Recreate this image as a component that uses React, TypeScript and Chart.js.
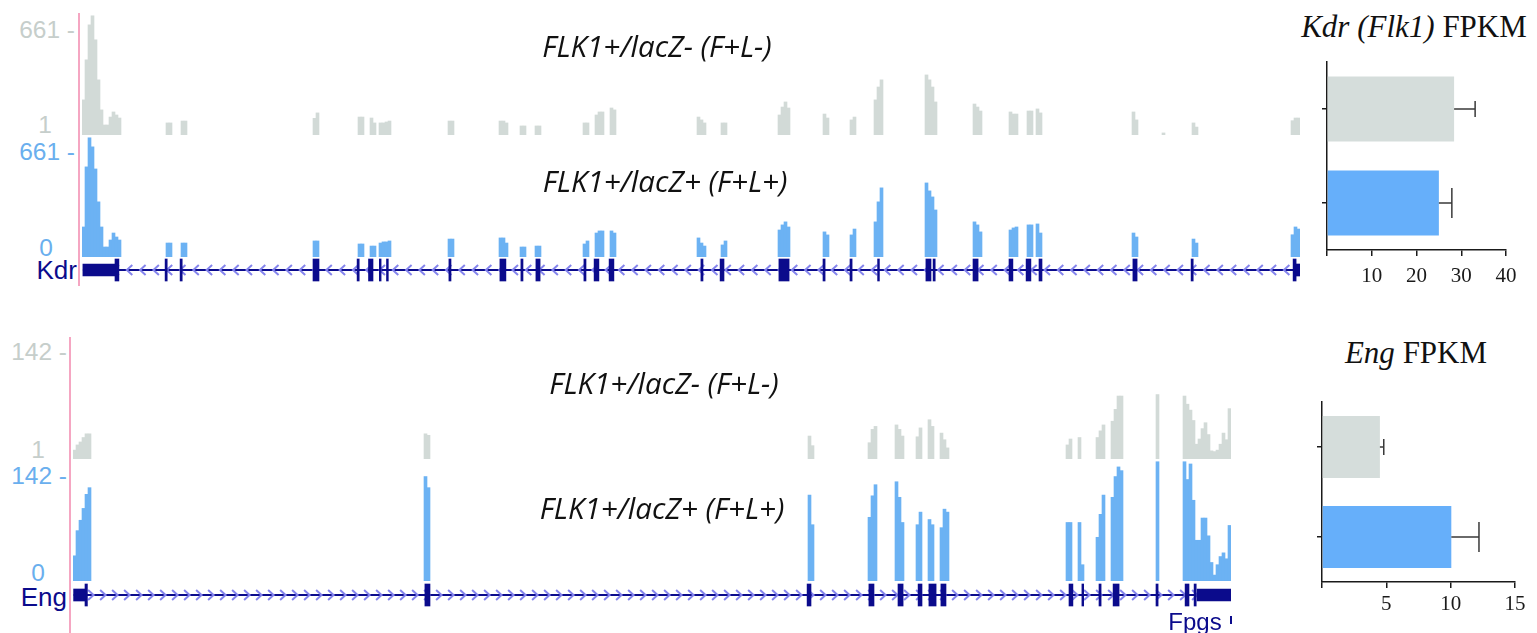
import React, { useEffect, useRef } from "react";
import { Chart, registerables } from "chart.js";

Chart.register(...registerables);

// ================= DATA =================
// Coverage tracks: each row = [first bin, value per consecutive bin ...] (bins of equal genomic width)
const kdrBinCount = 406;
const kdrTrackMax = 755;
const kdrScaleLabels = ["661 -", "1", "661 -", "0"];
const kdrCoverageLacZneg: number[][] = [
  [0, 221, 473, 693, 750, 599, 347, 158, 63, 63, 113, 145, 126, 107],
  [28, 76, 76],
  [33, 88, 88],
  [77, 105, 139],
  [92, 113, 113],
  [96, 107, 76],
  [99, 76, 76, 82, 88],
  [122, 88, 88],
  [139, 88, 88, 76],
  [146, 57, 57],
  [151, 57, 57],
  [167, 76, 76],
  [171, 126, 145, 145],
  [176, 170, 158],
  [205, 113, 95, 76],
  [213, 76, 76],
  [232, 126, 176, 208, 170],
  [247, 132, 107],
  [256, 95, 113],
  [264, 221, 302, 347],
  [281, 378, 347, 302, 208],
  [297, 195, 176, 151],
  [309, 145, 132, 132],
  [315, 151, 151],
  [318, 164, 139],
  [350, 145, 95],
  [360, 13],
  [370, 76, 50],
  [403, 90, 107, 107],
];
const kdrCoverageLacZpos: number[][] = [
  [0, 189, 567, 750, 693, 554, 347, 189, 63, 63, 107, 151, 126, 107],
  [28, 88, 88],
  [33, 88, 88],
  [77, 101, 101],
  [92, 82, 82],
  [96, 69, 69],
  [99, 88, 95, 95, 101],
  [122, 113, 113],
  [139, 120, 120, 88],
  [146, 63, 63],
  [151, 69, 69],
  [167, 82, 101],
  [171, 151, 164, 164],
  [176, 164, 151],
  [205, 120, 88, 69],
  [213, 76, 101],
  [232, 170, 202, 221, 189],
  [247, 158, 139],
  [256, 139, 176],
  [264, 221, 347, 435],
  [281, 466, 416, 378, 296],
  [297, 221, 202, 158],
  [309, 170, 183, 189],
  [315, 202, 202],
  [318, 208, 151],
  [350, 151, 126],
  [370, 113, 88],
  [403, 140, 189, 176],
];
// Gene model (bin coordinates): [start, end]
const kdrGeneSpan = [-0.2, 405.5];
const kdrUtrExons: number[][] = [[-0.2, 10.5], [404.2, 405.5]];
const kdrCodingExons: number[][] = [
  [10.5, 11.8], [27.2, 27.9], [32.2, 32.9], [76.5, 78.5], [91.2, 91.9], [95, 96.5],
  [98.6, 99.2], [101, 101.6], [121.8, 122.5], [138.8, 140.8], [145.8, 146.5],
  [150.8, 152.2], [166.8, 167.5], [170.2, 171.8], [175.2, 176.8], [205.8, 206.5],
  [212.2, 213.5], [231.8, 235.2], [246.5, 247.2], [255.5, 256.2], [264.7, 265.3],
  [280.8, 282.5], [283.2, 283.9], [296.5, 298.2], [308.5, 309.8], [314.2, 315.8],
  [318.5, 319.5], [349.8, 351.2], [369.2, 369.9], [403.2, 404.2],
];

const engBinCount = 386;
const engTrackMax = 162;
const engScaleLabels = ["142 -", "1", "142 -", "0"];
const engCoverageLacZneg: number[][] = [
  [0, 12, 19, 23, 29, 34, 34],
  [117, 34, 32],
  [245, 31, 18],
  [265, 22, 40, 44],
  [274, 46, 40, 31],
  [281, 30, 42],
  [285, 53, 44],
  [289, 35, 26, 15],
  [331, 19, 27],
  [335, 29],
  [341, 29, 38, 46],
  [346, 51, 67, 85, 85],
  [361, 87],
  [370, 85, 74, 66, 52, 20, 27, 41, 49, 33, 11, 10, 12, 20, 35, 26, 68],
];
const engCoverageLacZpos: number[][] = [
  [0, 34, 68, 82, 98, 117, 126],
  [117, 141, 126],
  [245, 116, 76],
  [265, 86, 115, 130],
  [274, 134, 113, 79],
  [281, 76, 93],
  [285, 83, 76],
  [289, 72, 97, 93],
  [331, 79, 79],
  [335, 79, 22],
  [341, 59, 90, 116],
  [346, 113, 141, 154, 149],
  [361, 161],
  [370, 161, 137, 158, 109, 55, 55, 85, 85, 61, 25, 8, 22, 33, 38, 30, 75],
];
const engGeneSpan = [-0.3, 385.5];
const engUtrExons: number[][] = [[-0.3, 3.5], [374.2, 385.5]];
const engCodingExons: number[][] = [
  [3.5, 4.3], [116.8, 118.5], [244.2, 245.5], [264.8, 266.5], [274.5, 276.2],
  [281.2, 282.5], [284.8, 287.2], [288.8, 290.5], [331.5, 332.8], [335.8, 336.4],
  [341.5, 342.2], [346.2, 348.2], [360.5, 361.2], [370.2, 371.5], [373.2, 373.9],
];

// FPKM bar charts
const sampleGroups = ["FLK1+/lacZ- (F+L-)", "FLK1+/lacZ+ (F+L+)"];
const kdrFpkm = [28.4, 25.0];
const kdrFpkmErr = [4.7, 2.9];
const kdrFpkmTicks = [10, 20, 30, 40];
const engFpkm = [4.5, 10.05];
const engFpkmErr = [0.3, 2.15];
const engFpkmTicks = [5, 10, 15];

// ================= STYLE =================
const GREY_TRACK = "#d2dad7";
const BLUE_TRACK = "#6cb2f3";
const GREY_LABEL = "#c6cecb";
const BLUE_LABEL = "#6aafee";
const NAVY = "#0b0b8c";
const CHEVRON = "#8484ec";
const PINK = "#f5a6c2";
const GREY_BAR = "#d5dddb";
const BLUE_BAR = "#66affa";
const SANS = '"Liberation Sans", Arial, sans-serif';
const SERIF = '"Liberation Serif", "Times New Roman", serif';

function coverageConfig(rows: number[][], bins: number, yMax: number, color: string): any {
  const points: { x: number; y: number }[] = [];
  rows.forEach(([start, ...vals]) => vals.forEach((v, k) => points.push({ x: start + k, y: v })));
  return {
    type: "bar",
    data: {
      datasets: [
        { data: points, backgroundColor: color, borderWidth: 0, barPercentage: 1, categoryPercentage: 1 },
      ],
    },
    options: {
      animation: false,
      responsive: true,
      maintainAspectRatio: false,
      events: [],
      layout: { padding: 0 },
      plugins: { legend: { display: false }, tooltip: { enabled: false } },
      scales: {
        x: {
          type: "linear",
          min: -0.5,
          max: bins - 0.5,
          offset: false,
          display: false,
          afterBuildTicks: (s: any) => {
            s.ticks = [];
          },
        },
        y: { type: "linear", min: 0, max: yMax, display: false },
      },
    },
  };
}

function geneConfig(
  span: number[],
  utr: number[][],
  coding: number[][],
  bins: number,
  dir: number,
  spacing: number
): any {
  const intronPlugin = {
    id: "intron",
    beforeDatasetsDraw(chart: any) {
      const ctx = chart.ctx;
      const xs = chart.scales.x;
      const y = chart.scales.y.getPixelForValue(0);
      const x0 = xs.getPixelForValue(span[0]);
      const x1 = xs.getPixelForValue(span[1]);
      ctx.save();
      ctx.strokeStyle = NAVY;
      ctx.lineWidth = 2;
      ctx.beginPath();
      ctx.moveTo(x0, y);
      ctx.lineTo(x1, y);
      ctx.stroke();
      ctx.strokeStyle = CHEVRON;
      ctx.lineWidth = 2;
      for (let x = x0 + 6; x < x1 - 3; x += spacing) {
        ctx.beginPath();
        ctx.moveTo(x + 3.5 * dir, y - 5);
        ctx.lineTo(x - 2 * dir, y);
        ctx.lineTo(x + 3.5 * dir, y + 5);
        ctx.stroke();
      }
      ctx.restore();
    },
  };
  return {
    type: "bar",
    data: {
      labels: ["gene"],
      datasets: [
        {
          data: utr.map(([s, e]) => ({ y: "gene", x: [s, e] })),
          backgroundColor: NAVY,
          barThickness: 12,
          grouped: false,
          borderWidth: 0,
        },
        {
          data: coding.map(([s, e]) => ({ y: "gene", x: [s, e] })),
          backgroundColor: NAVY,
          barThickness: 22,
          grouped: false,
          borderWidth: 0,
        },
      ],
    },
    options: {
      indexAxis: "y",
      animation: false,
      responsive: true,
      maintainAspectRatio: false,
      events: [],
      layout: { padding: 0 },
      plugins: { legend: { display: false }, tooltip: { enabled: false } },
      scales: {
        x: { type: "linear", min: -0.5, max: bins - 0.5, offset: false, display: false },
        y: { type: "category", display: false },
      },
    },
    plugins: [intronPlugin],
  };
}

function fpkmConfig(
  values: number[],
  errs: number[],
  ticks: number[],
  padding: any,
  labelPad: number
): any {
  const errorPlugin = {
    id: "errbars",
    afterDatasetsDraw(chart: any) {
      const ctx = chart.ctx;
      const xs = chart.scales.x;
      const meta = chart.getDatasetMeta(0);
      const capHalf = [8, 15];
      ctx.save();
      ctx.strokeStyle = "#3a3a3a";
      ctx.lineWidth = 1.5;
      meta.data.forEach((bar: any, i: number) => {
        const xa = xs.getPixelForValue(values[i]);
        const xb = xs.getPixelForValue(values[i] + errs[i]);
        ctx.beginPath();
        ctx.moveTo(xa, bar.y);
        ctx.lineTo(xb, bar.y);
        ctx.moveTo(xb, bar.y - capHalf[i]);
        ctx.lineTo(xb, bar.y + capHalf[i]);
        ctx.stroke();
      });
      ctx.restore();
    },
  };
  return {
    type: "bar",
    data: {
      labels: sampleGroups,
      datasets: [
        {
          data: values,
          backgroundColor: [GREY_BAR, BLUE_BAR],
          borderWidth: 0,
          barPercentage: 0.69,
          categoryPercentage: 1,
        },
      ],
    },
    options: {
      indexAxis: "y",
      animation: false,
      responsive: true,
      maintainAspectRatio: false,
      events: [],
      layout: { padding },
      plugins: { legend: { display: false }, tooltip: { enabled: false } },
      scales: {
        x: {
          type: "linear",
          min: 0,
          max: ticks[ticks.length - 1],
          afterBuildTicks: (s: any) => {
            s.ticks = [0, ...ticks].map((v) => ({ value: v }));
          },
          ticks: {
            callback: (v: number) => (v === 0 ? "" : String(v)),
            font: { family: SERIF, size: 21 },
            color: "#1a1a1a",
            padding: labelPad,
            maxRotation: 0,
          },
          grid: { drawOnChartArea: false, tickLength: 6, color: "#1a1a1a", lineWidth: 1.5 },
          border: { display: true, color: "#1a1a1a", width: 1.5 },
          afterFit: (s: any) => {
            s.height = 40;
          },
        },
        y: {
          type: "category",
          ticks: { display: false },
          grid: { drawOnChartArea: false, tickLength: 5, offset: false, color: "#1a1a1a", lineWidth: 1.5 },
          border: { display: true, color: "#1a1a1a", width: 1.5 },
          afterFit: (s: any) => {
            s.width = 10;
          },
        },
      },
    },
    plugins: [errorPlugin],
  };
}

function ChartBox({ left, top, width, height, make }: any) {
  const ref = useRef<HTMLCanvasElement>(null);
  useEffect(() => {
    const chart = new Chart(ref.current as HTMLCanvasElement, make());
    return () => chart.destroy();
  }, []);
  return (
    <div style={{ position: "absolute", left, top, width, height }}>
      <canvas ref={ref} />
    </div>
  );
}

function Txt({ x, y, align = "center", font, color = "#111", children }: any) {
  const tx = align === "center" ? "-50%" : align === "right" ? "-100%" : "0";
  return (
    <div
      style={{
        position: "absolute",
        left: x,
        top: y,
        transform: `translate(${tx}, -50%)`,
        font,
        lineHeight: 1,
        color,
        whiteSpace: "nowrap",
      }}
    >
      {children}
    </div>
  );
}

export default function App() {
  const titleFont = 'italic 29.5px "Open Sans", sans-serif';
  const scaleFont = `24.5px ${SANS}`;
  return (
    <div
      style={{
        position: "fixed",
        left: 0,
        top: 0,
        width: 1537,
        height: 633,
        background: "#fff",
        overflow: "hidden",
      }}
    >
      {/* ---------- Kdr panel ---------- */}
      <div style={{ position: "absolute", left: 78, top: 13, width: 2, height: 273, background: PINK }} />
      <Txt x={75} y={30} align="right" font={scaleFont} color={GREY_LABEL}>{kdrScaleLabels[0]}</Txt>
      <Txt x={52} y={125} align="right" font={scaleFont} color={GREY_LABEL}>{kdrScaleLabels[1]}</Txt>
      <Txt x={75} y={152} align="right" font={scaleFont} color={BLUE_LABEL}>{kdrScaleLabels[2]}</Txt>
      <Txt x={53} y={248} align="right" font={scaleFont} color={BLUE_LABEL}>{kdrScaleLabels[3]}</Txt>
      <Txt x={77} y={270} align="right" font={`26px ${SANS}`} color={NAVY}>Kdr</Txt>
      <ChartBox left={82} top={15} width={1218} height={120}
        make={() => coverageConfig(kdrCoverageLacZneg, kdrBinCount, kdrTrackMax, GREY_TRACK)} />
      <ChartBox left={82} top={137} width={1218} height={120}
        make={() => coverageConfig(kdrCoverageLacZpos, kdrBinCount, kdrTrackMax, BLUE_TRACK)} />
      <ChartBox left={82} top={256} width={1218} height={28}
        make={() => geneConfig(kdrGeneSpan, kdrUtrExons, kdrCodingExons, kdrBinCount, 1, 13.3)} />
      <Txt x={657} y={46} font={titleFont}>{sampleGroups[0]}</Txt>
      <Txt x={665} y={181} font={titleFont}>{sampleGroups[1]}</Txt>

      {/* ---------- Eng panel ---------- */}
      <div style={{ position: "absolute", left: 69, top: 337, width: 2, height: 296, background: PINK }} />
      <Txt x={67} y={352} align="right" font={scaleFont} color={GREY_LABEL}>{engScaleLabels[0]}</Txt>
      <Txt x={45} y={450} align="right" font={scaleFont} color={GREY_LABEL}>{engScaleLabels[1]}</Txt>
      <Txt x={67} y={476} align="right" font={scaleFont} color={BLUE_LABEL}>{engScaleLabels[2]}</Txt>
      <Txt x={45} y={573} align="right" font={scaleFont} color={BLUE_LABEL}>{engScaleLabels[3]}</Txt>
      <Txt x={67} y={597} align="right" font={`26px ${SANS}`} color={NAVY}>Eng</Txt>
      <ChartBox left={73} top={339} width={1158} height={120}
        make={() => coverageConfig(engCoverageLacZneg, engBinCount, engTrackMax, GREY_TRACK)} />
      <ChartBox left={73} top={461} width={1158} height={120}
        make={() => coverageConfig(engCoverageLacZpos, engBinCount, engTrackMax, BLUE_TRACK)} />
      <ChartBox left={73} top={581} width={1158} height={28}
        make={() => geneConfig(engGeneSpan, engUtrExons, engCodingExons, engBinCount, -1, 12)} />
      <Txt x={664} y={383} font={titleFont}>{sampleGroups[0]}</Txt>
      <Txt x={662} y={508} font={titleFont}>{sampleGroups[1]}</Txt>
      <Txt x={1195} y={622} font={`24px ${SANS}`} color={NAVY}>Fpgs</Txt>
      <div style={{ position: "absolute", left: 1230, top: 616, width: 2, height: 8, background: NAVY }} />

      {/* ---------- FPKM bar charts ---------- */}
      <Txt x={1414} y={26} font={`31px ${SERIF}`} color="#111">
        <i>Kdr (Flk1)</i> FPKM
      </Txt>
      <ChartBox left={1300} top={50} width={230} height={250}
        make={() => fpkmConfig(kdrFpkm, kdrFpkmErr, kdrFpkmTicks, { left: 17, top: 12, right: 24, bottom: 10 }, 8)} />
      <Txt x={1416} y={352} font={`31px ${SERIF}`} color="#111">
        <i>Eng</i> FPKM
      </Txt>
      <ChartBox left={1300} top={390} width={230} height={243}
        make={() => fpkmConfig(engFpkm, engFpkmErr, engFpkmTicks, { left: 12, top: 12, right: 15, bottom: 11 }, 4)} />
    </div>
  );
}
